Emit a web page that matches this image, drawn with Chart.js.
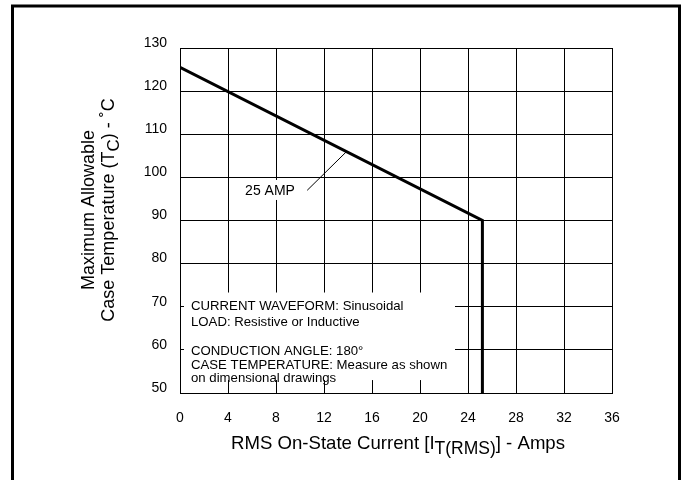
<!DOCTYPE html>
<html>
<head>
<meta charset="utf-8">
<script src="https://cdn.jsdelivr.net/npm/chart.js@4.4.1/dist/chart.umd.min.js"></script>
<style>
  html, body { margin: 0; padding: 0; background: #fff; }
  canvas { display: block; }
</style>
</head>
<body>
<canvas id="deratingChart" width="684" height="480"></canvas>
<script>
// Données de la courbe de derating (25 A)
const courantRms = [0, 25.2, 25.2];
const tempBoitier = [125.5, 90, 50];

// Trait de renvoi vers l'étiquette "25 AMP"
const renvoiX = [10.6, 13.85];
const renvoiY = [97.0, 105.9];

// Graduations des axes
const ticksX = [0, 4, 8, 12, 16, 20, 24, 28, 32, 36];
const ticksY = [50, 60, 70, 80, 90, 100, 110, 120, 130];

// Conditions d'essai affichées dans le graphique
const notes = [
    'CURRENT WAVEFORM: Sinusoidal',
    'LOAD: Resistive or Inductive',
    'CONDUCTION ANGLE: 180°',
    'CASE TEMPERATURE: Measure as shown',
    'on dimensional drawings'
];
const etiquetteCourbe = '25 AMP';

const POLICE = '"Liberation Sans", Arial, Helvetica, sans-serif';

// Fonction pour écrire un texte avec indice (ex: I T(RMS))
function drawWithSubscript(ctx, parts, x, y, size, subSize, subDrop) {
    let width = 0;
    parts.forEach(p => {
        ctx.font = `${p.sub ? subSize : size}px ${POLICE}`;
        width += ctx.measureText(p.text).width;
    });
    let cx = x - width / 2;
    parts.forEach(p => {
        ctx.font = `${p.sub ? subSize : size}px ${POLICE}`;
        ctx.fillText(p.text, cx, y + (p.sub ? subDrop : 0));
        cx += ctx.measureText(p.text).width;
    });
}

// Plugin : masques blancs sous les textes, annotations, titres et cadre
const annotations = {
    id: 'annotations',
    beforeDatasetsDraw(chart) {
        const { ctx, scales: { x, y } } = chart;
        ctx.save();
        ctx.fillStyle = '#fff';
        // zone des conditions d'essai
        ctx.fillRect(x.getPixelForValue(0) + 4, y.getPixelForValue(73.3),
            455 - x.getPixelForValue(0) - 4, y.getPixelForValue(53.0) - y.getPixelForValue(73.3));
        // zone de l'étiquette 25 AMP
        ctx.fillRect(243, y.getPixelForValue(99.4), 56, 20);
        ctx.restore();
    },
    afterDraw(chart) {
        const { ctx, scales: { x, y } } = chart;
        ctx.save();
        ctx.fillStyle = '#000';
        ctx.textBaseline = 'middle';

        // Conditions d'essai
        ctx.font = `13.2px ${POLICE}`;
        ctx.textAlign = 'left';
        const x0 = x.getPixelForValue(0) + 11;
        const y70 = y.getPixelForValue(70);
        const y60 = y.getPixelForValue(60);
        ctx.fillText(notes[0], x0, y70);
        ctx.fillText(notes[1], x0, y70 + 16);
        ctx.fillText(notes[2], x0, y60 + 1.5);
        ctx.fillText(notes[3], x0, y60 + 15);
        ctx.fillText(notes[4], x0, y60 + 28);

        // Étiquette de la courbe
        ctx.font = `14px ${POLICE}`;
        ctx.textAlign = 'center';
        ctx.fillText(etiquetteCourbe, 270, y.getPixelForValue(96.8));

        // Titre de l'axe X
        ctx.textAlign = 'left';
        ctx.textBaseline = 'alphabetic';
        drawWithSubscript(ctx, [
            { text: 'RMS On-State Current [I' },
            { text: 'T(RMS)', sub: true },
            { text: '] - Amps' }
        ], 398, 449, 18.6, 17.5, 5);

        // Titre de l'axe Y (deux lignes, tourné)
        ctx.save();
        ctx.translate(0, 210);
        ctx.rotate(-Math.PI / 2);
        ctx.font = `18px ${POLICE}`;
        ctx.textAlign = 'center';
        ctx.fillText('Maximum Allowable', 0, 93.5);
        ctx.textAlign = 'left';
        drawWithSubscript(ctx, [
            { text: 'Case Temperature (T' },
            { text: 'C', sub: true },
            { text: ') - ˚C' }
        ], 0, 113.5, 18, 17, 5);
        ctx.restore();

        // Cadre extérieur
        ctx.strokeStyle = '#000';
        ctx.lineWidth = 3;
        ctx.strokeRect(12.5, 6, 667, 600);
        ctx.restore();
    }
};

const ctx = document.getElementById('deratingChart').getContext('2d');
const chart = new Chart(ctx, {
    type: 'scatter',
    data: {
        datasets: [
            {
                data: courantRms.map((v, i) => ({ x: v, y: tempBoitier[i] })),
                showLine: true,
                borderColor: '#000',
                borderWidth: 3,
                pointRadius: 0,
                borderJoinStyle: 'miter',
                tension: 0
            },
            {
                data: renvoiX.map((v, i) => ({ x: v, y: renvoiY[i] })),
                showLine: true,
                borderColor: '#000',
                borderWidth: 1,
                pointRadius: 0
            }
        ]
    },
    options: {
        responsive: false,
        animation: false,
        devicePixelRatio: 1,
        layout: { padding: { left: 0, right: 72, top: 48, bottom: 0 } },
        plugins: {
            legend: { display: false },
            tooltip: { enabled: false }
        },
        scales: {
            x: {
                type: 'linear',
                min: 0,
                max: 36,
                afterBuildTicks: s => { s.ticks = ticksX.map(v => ({ value: v })); },
                afterFit: s => { s.height = 87; },
                grid: { color: '#000', lineWidth: 1, drawTicks: false },
                border: { color: '#000', width: 1 },
                ticks: {
                    color: '#000',
                    padding: 17,
                    maxRotation: 0,
                    font: { family: POLICE, size: 14 }
                }
            },
            y: {
                type: 'linear',
                min: 50,
                max: 130,
                afterBuildTicks: s => { s.ticks = ticksY.map(v => ({ value: v })); },
                afterFit: s => { s.width = 180; },
                grid: { color: '#000', lineWidth: 1, drawTicks: false },
                border: { color: '#000', width: 1 },
                ticks: {
                    color: '#000',
                    padding: 13,
                    labelOffset: -5,
                    font: { family: POLICE, size: 14 }
                }
            }
        }
    },
    plugins: [annotations]
});
</script>
</body>
</html>
